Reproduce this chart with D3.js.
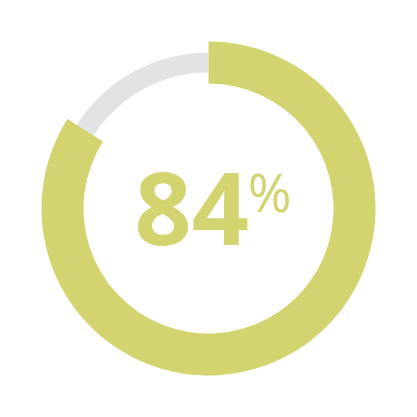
<!DOCTYPE html>
<html>
<head>
<meta charset="utf-8">
<script src="https://cdn.jsdelivr.net/npm/d3@7"></script>
<style>
  html, body { margin: 0; padding: 0; background: #fff; }
</style>
</head>
<body>
<svg id="gauge" width="417" height="417"></svg>
<script>
// valores del gráfico
const percent = [84];
const total = [100];
const labels = ["84", "%"];

const svg = d3.select("#gauge"),
    width = +svg.attr("width"),
    height = +svg.attr("height");

const cx = 208.5, cy = 208.5;
const g = svg.append("g").attr("transform", `translate(${cx},${cy})`);

// escala de valor a ángulo
const angle = d3.scaleLinear()
    .domain([0, total[0]])
    .range([0, 2 * Math.PI]);

// pista gris (más delgada)
const track = d3.arc()
    .innerRadius(136)
    .outerRadius(156)
    .startAngle(angle(percent[0]))
    .endAngle(angle(total[0]));

g.append("path")
    .attr("d", track())
    .attr("fill", "#e2e3e5");

// arco de valor
const valueArc = d3.arc()
    .innerRadius(125)
    .outerRadius(167)
    .startAngle(angle(0))
    .endAngle(angle(percent[0]));

g.append("path")
    .attr("d", valueArc())
    .attr("fill", "#d3d46f");

// texto central
const txt = g.append("text")
    .attr("x", -74)
    .attr("y", 36)
    .attr("fill", "#d3d46f")
    .style("font-family", "'Open Sans', sans-serif");

txt.append("tspan")
    .style("font-weight", "700")
    .style("font-size", "100px")
    .text(labels[0]);

txt.append("tspan")
    .attr("dx", -1)
    .attr("dy", -33)
    .style("font-weight", "400")
    .style("font-size", "53px")
    .text(labels[1]);
</script>
</body>
</html>
